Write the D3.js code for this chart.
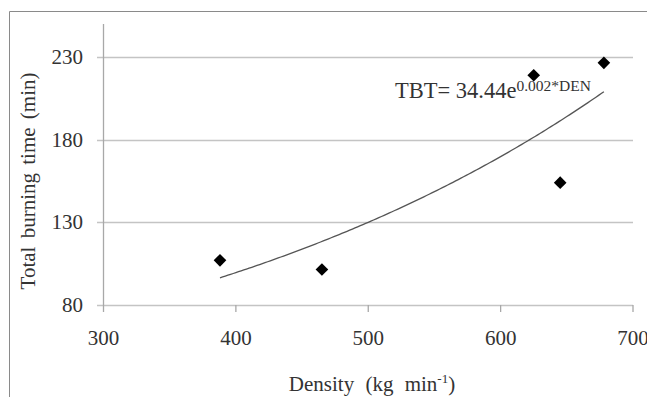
<!DOCTYPE html>
<html>
<head>
<meta charset="utf-8">
<script src="https://cdn.jsdelivr.net/npm/d3@7"></script>
<style>
  body { margin: 0; background: #fff; }
  text { font-family: "Liberation Serif", "Times New Roman", serif; fill: #333; }
</style>
</head>
<body>
<script>
// density (kg m-3) and total burning time (min)
const density = [388, 465, 625, 645, 678];
const burnTime = [107, 101.5, 219, 154, 226.5];
const yTicks = [80, 130, 180, 230];
const xTicks = [300, 400, 500, 600, 700];

const width = 647, height = 397;
const svg = d3.select('body')
  .append('svg')
  .attr('width', width)
  .attr('height', height);

// chart frame (cropped at the bottom and right)
svg.append('path')
  .attr('d', `M9.5,${height} V11.5 H${width}`)
  .attr('fill', 'none')
  .attr('stroke', '#8a8a8a');

const x = d3.scaleLinear().domain([300, 700]).range([103.5, 633]);
const y = d3.scaleLinear().domain([80, 250]).range([305, 24]);

// gridlines
svg.selectAll('.grid')
  .data(yTicks)
  .enter()
  .append('line')
  .attr('x1', 97)
  .attr('x2', x(700))
  .attr('y1', d => Math.round(y(d)) + 0.5)
  .attr('y2', d => Math.round(y(d)) + 0.5)
  .attr('stroke', '#c4c4c4')
  .attr('stroke-width', 1.3);

// y axis line
svg.append('line')
  .attr('x1', 103.5).attr('x2', 103.5)
  .attr('y1', y(250)).attr('y2', 312)
  .attr('stroke', '#a8a8a8')
  .attr('stroke-width', 1.3);

// x axis ticks
svg.selectAll('.xtick')
  .data(xTicks.slice(1))
  .enter()
  .append('line')
  .attr('x1', d => x(d)).attr('x2', d => x(d))
  .attr('y1', y(80)).attr('y2', 312)
  .attr('stroke', '#a8a8a8')
  .attr('stroke-width', 1.3);

svg.selectAll('.ylab')
  .data(yTicks)
  .enter()
  .append('text')
  .attr('x', 83)
  .attr('y', d => y(d) + 7)
  .attr('text-anchor', 'end')
  .attr('font-size', 21)
  .text(d => d);

svg.selectAll('.xlab')
  .data(xTicks)
  .enter()
  .append('text')
  .attr('x', d => x(d))
  .attr('y', 345)
  .attr('text-anchor', 'middle')
  .attr('font-size', 21)
  .text(d => d);

// axis titles
const xt = svg.append('text')
  .attr('x', 372)
  .attr('y', 391)
  .attr('text-anchor', 'middle')
  .attr('font-size', 21)
  .attr('word-spacing', 6);
xt.append('tspan').text('Density (kg min');
xt.append('tspan').attr('font-size', 13).attr('dy', -8).text('-1');
xt.append('tspan').attr('dy', 8).text(')');

svg.append('text')
  .attr('transform', 'translate(35,181) rotate(-90)')
  .attr('text-anchor', 'middle')
  .attr('font-size', 21)
  .attr('word-spacing', 3)
  .text('Total burning time (min)');

// exponential trendline fitted to the points (least squares on log y)
const lx = d3.mean(density);
const ly = d3.mean(burnTime, v => Math.log(v));
const b = d3.sum(density, (d, i) => (d - lx) * (Math.log(burnTime[i]) - ly)) /
  d3.sum(density, d => (d - lx) * (d - lx));
const a = Math.exp(ly - b * lx);
const trend = d3.range(d3.min(density), d3.max(density) + 1, 2)
  .map(d => [d, a * Math.exp(b * d)]);

svg.append('path')
  .datum(trend)
  .attr('fill', 'none')
  .attr('stroke', '#555')
  .attr('stroke-width', 1.3)
  .attr('d', d3.line().x(d => x(d[0])).y(d => y(d[1])));

// points
svg.selectAll('.pt')
  .data(density)
  .enter()
  .append('path')
  .attr('d', d3.symbol(d3.symbolSquare, 80))
  .attr('transform', (d, i) => `translate(${x(d)},${y(burnTime[i])}) rotate(45)`)
  .attr('fill', '#000');

// equation label
const eq = svg.append('text')
  .attr('x', 395)
  .attr('y', 98)
  .attr('font-size', 22.5);
eq.append('tspan').text('TBT= 34.44e');
eq.append('tspan').attr('font-size', 15.5).attr('dy', -7).text('0.002*DEN');
</script>
</body>
</html>
